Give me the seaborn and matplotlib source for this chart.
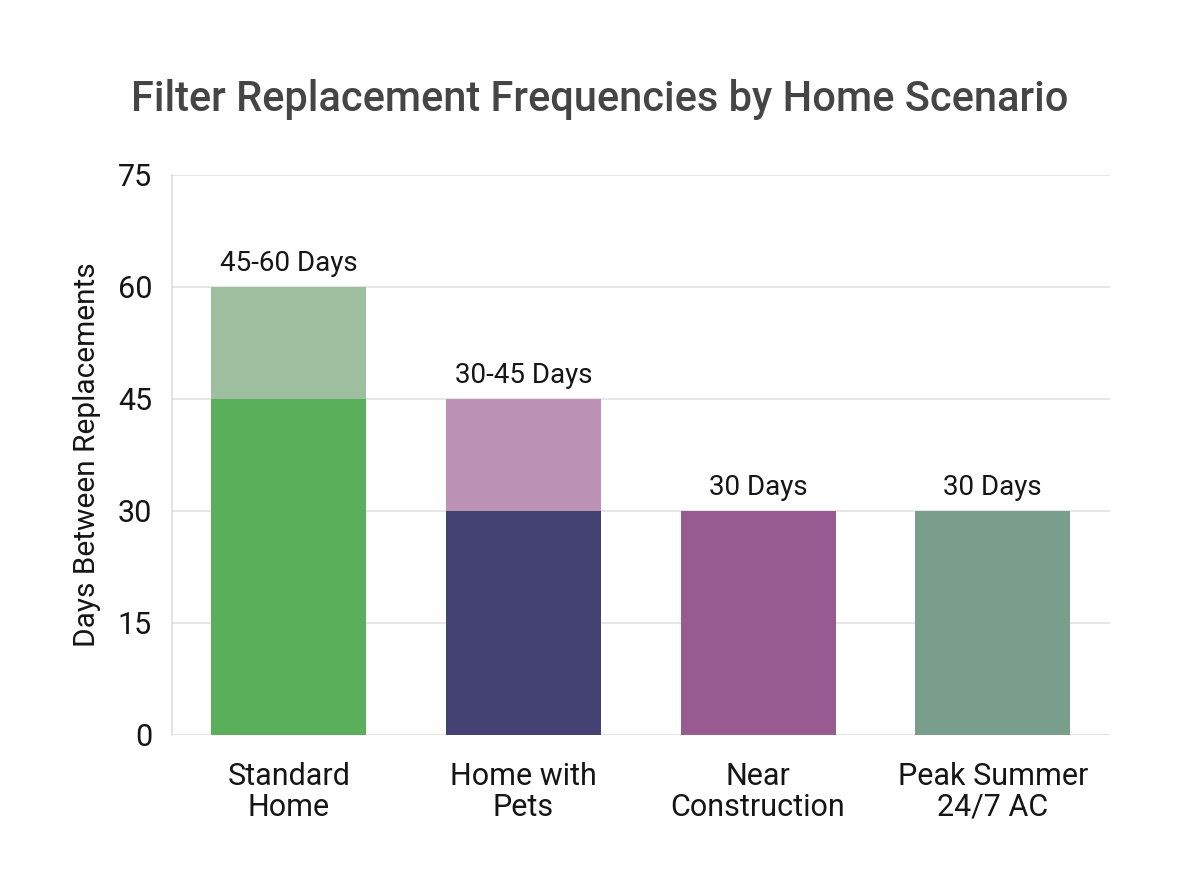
import pandas as pd
import matplotlib.pyplot as plt
import seaborn as sns

# data
categories = ["Standard\nHome", "Home with\nPets", "Near\nConstruction", "Peak Summer\n24/7 AC"]
low_days = [45, 30, 30, 30]
high_days = [60, 45, 30, 30]
range_labels = ["45-60 Days", "30-45 Days", "30 Days", "30 Days"]
yticks = [0, 15, 30, 45, 60, 75]

base_colors = ["#5aaf5b", "#434273", "#985b91", "#7a9e8c"]
top_colors = ["#9dbfa0", "#bc92b6", "#985b91", "#7a9e8c"]

df = pd.DataFrame({"Scenario": categories, "Low": low_days, "High": high_days, "Label": range_labels})

sns.set_style("white")
plt.rcParams['font.family'] = ['Roboto', 'DejaVu Sans']

fig = plt.figure(figsize=(12, 8.96), dpi=100)
ax = fig.add_axes([0.143, 0.180, 0.782, 0.625])

# upper part of the range first, then the lower bound on top of it
sns.barplot(data=df, x="Scenario", y="High", hue="Scenario", palette=top_colors,
            width=0.66, saturation=1, legend=False, linewidth=0, ax=ax, zorder=2)
sns.barplot(data=df, x="Scenario", y="Low", hue="Scenario", palette=base_colors,
            width=0.66, saturation=1, legend=False, linewidth=0, ax=ax, zorder=3)

for i, row in df.iterrows():
    ax.annotate(row["Label"], (i, row["High"]), xytext=(0, 7), textcoords="offset points",
                ha="center", va="bottom", fontsize=20, color="#151515")

ax.set_ylim(0, 75)
ax.set_xlim(-0.5, 3.5)
ax.set_yticks(yticks)
ax.grid(axis="y", color="#e2e2e2", linewidth=1.2, zorder=0)
ax.set_axisbelow(True)
for s in ["top", "right", "bottom"]:
    ax.spines[s].set_visible(False)
ax.spines["left"].set_color("#dddddd")
ax.spines["left"].set_linewidth(1.2)
ax.tick_params(axis="y", length=0, pad=14, labelsize=22, labelcolor="#151515")
ax.tick_params(axis="x", length=0, pad=20, labelsize=22, labelcolor="#151515")
for lbl in ax.get_xticklabels():
    lbl.set_linespacing(1.05)
ax.set_xlabel("")
ax.set_ylabel("Days Between Replacements", fontsize=21.5, color="#151515", labelpad=12)

fig.suptitle("Filter Replacement Frequencies by Home Scenario", y=0.912, fontsize=30,
             fontweight="medium", color="#454545")

fig.savefig("out.png", dpi=100, facecolor="white")
